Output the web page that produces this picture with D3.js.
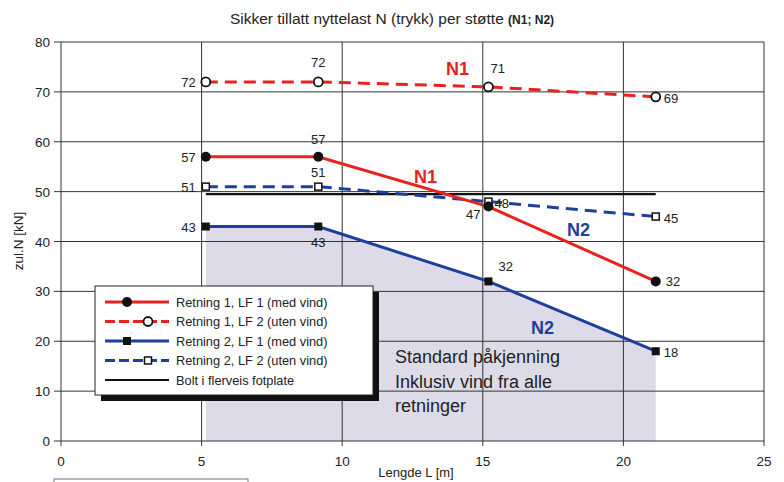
<!DOCTYPE html>
<html>
<head>
<meta charset="utf-8">
<script src="https://cdn.jsdelivr.net/npm/d3@7"></script>
<style>
  html, body { margin: 0; padding: 0; background: #fff; }
  svg { display: block; font-family: "Liberation Sans", Arial, Helvetica, sans-serif; }
</style>
</head>
<body>
<svg id="chart" width="784" height="482"></svg>
<script>
// ---- data ----
const lengths = [5.15, 9.15, 15.2, 21.15];
const r1lf1 = [57, 57, 47, 32];
const r1lf2 = [72, 72, 71, 69];
const r2lf1 = [43, 43, 32, 18];
const r2lf2 = [51, 51, 48, 45];
const boltLevel = 49.5;
const boltRange = [5.15, 21.15];
const xTicks = [0, 5, 10, 15, 20, 25];
const yTicks = [0, 10, 20, 30, 40, 50, 60, 70, 80];
const legendLabels = [
  "Retning 1, LF 1 (med vind)",
  "Retning 1, LF 2 (uten vind)",
  "Retning 2, LF 1 (med vind)",
  "Retning 2, LF 2 (uten vind)",
  "Bolt i flerveis fotplate"
];
const noteLines = ["Standard påkjenning", "Inklusiv vind fra alle", "retninger"];

const RED = "#e8231e", BLUE = "#1f3f9e";

const svg = d3.select("#chart");
const x = d3.scaleLinear().domain([0, 25]).range([61, 764]);
const y = d3.scaleLinear().domain([0, 80]).range([441, 42]);

// title
const title = svg.append("text").attr("x", 392).attr("y", 24).attr("text-anchor", "middle")
  .attr("font-size", 15.5).attr("fill", "#222");
title.append("tspan").text("Sikker tillatt nyttelast N (trykk) per støtte ");
title.append("tspan").attr("font-weight", "bold").attr("font-size", 12).text("(N1; N2)");

// shaded region under R2 LF1
const pts2 = lengths.map((l, i) => [l, r2lf1[i]]);
svg.append("path")
  .datum(pts2)
  .attr("d", d3.area().x(d => x(d[0])).y0(y(0)).y1(d => y(d[1])))
  .attr("fill", "#dddbe8");

// grid
const g = svg.append("g").attr("stroke", "#333").attr("stroke-width", 1);
g.selectAll(".hg").data(yTicks).join("line")
  .attr("x1", 54).attr("x2", x(25)).attr("y1", d => y(d)).attr("y2", d => y(d));
g.selectAll(".vg").data(xTicks).join("line")
  .attr("x1", d => x(d)).attr("x2", d => x(d)).attr("y1", y(80)).attr("y2", y(0) + 5);

// y tick labels
svg.append("g").selectAll("text").data(yTicks).join("text")
  .attr("x", 50).attr("y", d => y(d) + 5).attr("text-anchor", "end")
  .attr("font-size", 13.5).attr("fill", "#222").text(d => d);
// x tick labels
svg.append("g").selectAll("text").data(xTicks).join("text")
  .attr("x", d => x(d)).attr("y", 466).attr("text-anchor", "middle")
  .attr("font-size", 13.5).attr("fill", "#222").text(d => d);

svg.append("text").attr("x", 416).attr("y", 477).attr("text-anchor", "middle")
  .attr("font-size", 13).attr("fill", "#222").text("Lengde L [m]");
svg.append("text").attr("transform", "translate(23,241) rotate(-90)").attr("text-anchor", "middle")
  .attr("font-size", 13.5).attr("fill", "#222").text("zul.N [kN]");

// partial box below axis
svg.append("rect").attr("x", 54).attr("y", 479).attr("width", 194).attr("height", 20)
  .attr("fill", "none").attr("stroke", "#777").attr("stroke-width", 1);

// bolt line
svg.append("line").attr("x1", x(boltRange[0])).attr("x2", x(boltRange[1]))
  .attr("y1", y(boltLevel)).attr("y2", y(boltLevel))
  .attr("stroke", "#111").attr("stroke-width", 2.2);

const line = d3.line().x(d => x(d[0])).y(d => y(d[1]));
const series = [
  { vals: r1lf2, color: RED, dash: "12,7", marker: "ocircle" },
  { vals: r2lf2, color: BLUE, dash: "12,7", marker: "osquare" },
  { vals: r1lf1, color: RED, dash: null, marker: "circle" },
  { vals: r2lf1, color: BLUE, dash: null, marker: "square" }
];

function drawMarker(sel, type, cx, cy) {
  if (type === "circle") sel.append("circle").attr("cx", cx).attr("cy", cy).attr("r", 5).attr("fill", "#111");
  if (type === "ocircle") sel.append("circle").attr("cx", cx).attr("cy", cy).attr("r", 4.5).attr("fill", "#fff").attr("stroke", "#111").attr("stroke-width", 1.8);
  if (type === "square") sel.append("rect").attr("x", cx - 4).attr("y", cy - 4).attr("width", 8).attr("height", 8).attr("fill", "#111");
  if (type === "osquare") sel.append("rect").attr("x", cx - 3.5).attr("y", cy - 3.5).attr("width", 7).attr("height", 7).attr("fill", "#fff").attr("stroke", "#111").attr("stroke-width", 1.5);
}

series.forEach(s => {
  const pts = lengths.map((l, i) => [l, s.vals[i]]);
  svg.append("path").datum(pts).attr("d", line).attr("fill", "none")
    .attr("stroke", s.color).attr("stroke-width", 3)
    .attr("stroke-dasharray", s.dash);
  const mg = svg.append("g");
  pts.forEach(p => drawMarker(mg, s.marker, x(p[0]), y(p[1])));
});

// value labels: [series values, index, dx, dy, anchor]
const labelSpecs = [
  [r1lf1, 0, -10, 5, "end"], [r1lf1, 1, 0, -13, "middle"], [r1lf1, 2, -8, 12, "end"], [r1lf1, 3, 10, 5, "start"],
  [r1lf2, 0, -10, 5, "end"], [r1lf2, 1, 0, -15, "middle"], [r1lf2, 2, 2, -14, "start"], [r1lf2, 3, 8, 6, "start"],
  [r2lf1, 0, -10, 5, "end"], [r2lf1, 1, 0, 20, "middle"], [r2lf1, 2, 10, -10, "start"], [r2lf1, 3, 8, 6, "start"],
  [r2lf2, 0, -10, 5, "end"], [r2lf2, 1, 0, -10, "middle"], [r2lf2, 2, 6, 6, "start"], [r2lf2, 3, 8, 6, "start"]
];
svg.append("g").selectAll("text").data(labelSpecs).join("text")
  .attr("x", d => x(lengths[d[1]]) + d[2])
  .attr("y", d => y(d[0][d[1]]) + d[3])
  .attr("text-anchor", d => d[4])
  .attr("font-size", 13).attr("fill", "#222")
  .text(d => d[0][d[1]]);

// series name labels
const nameLabels = [["N1", 446, 75, RED], ["N1", 414, 183, RED], ["N2", 567, 236, BLUE], ["N2", 531, 334, BLUE]];
svg.append("g").selectAll("text").data(nameLabels).join("text")
  .attr("x", d => d[1]).attr("y", d => d[2]).attr("font-size", 18).attr("font-weight", "bold")
  .attr("fill", d => d[3]).text(d => d[0]);

// note
svg.append("g").selectAll("text").data(noteLines).join("text")
  .attr("x", 395).attr("y", (d, i) => 363 + i * 24.5).attr("font-size", 18).attr("fill", "#222")
  .text(d => d);

// legend
const lg = svg.append("g");
lg.append("rect").attr("x", 101).attr("y", 292).attr("width", 278).attr("height", 109).attr("fill", "#111");
lg.append("rect").attr("x", 95).attr("y", 286).attr("width", 278).attr("height", 109)
  .attr("fill", "#fff").attr("stroke", "#222").attr("stroke-width", 1);
const legendStyles = [
  { color: RED, dash: null, marker: "circle", mx: 127 },
  { color: RED, dash: "10,4", marker: "ocircle", mx: 148 },
  { color: BLUE, dash: null, marker: "square", mx: 127 },
  { color: BLUE, dash: "10,4", marker: "osquare", mx: 148 },
  { color: "#111", dash: null, marker: null, mx: 0 }
];
legendLabels.forEach((lab, i) => {
  const cy = 302 + i * 19.5;
  const st = legendStyles[i];
  lg.append("line").attr("x1", 105).attr("x2", 169).attr("y1", cy).attr("y2", cy)
    .attr("stroke", st.color).attr("stroke-width", st.marker ? 3 : 1.8).attr("stroke-dasharray", st.dash);
  if (st.marker) drawMarker(lg, st.marker, st.mx, cy);
  lg.append("text").attr("x", 176).attr("y", cy + 4.5).attr("font-size", 12.8).attr("fill", "#222").text(lab);
});
</script>
</body>
</html>
